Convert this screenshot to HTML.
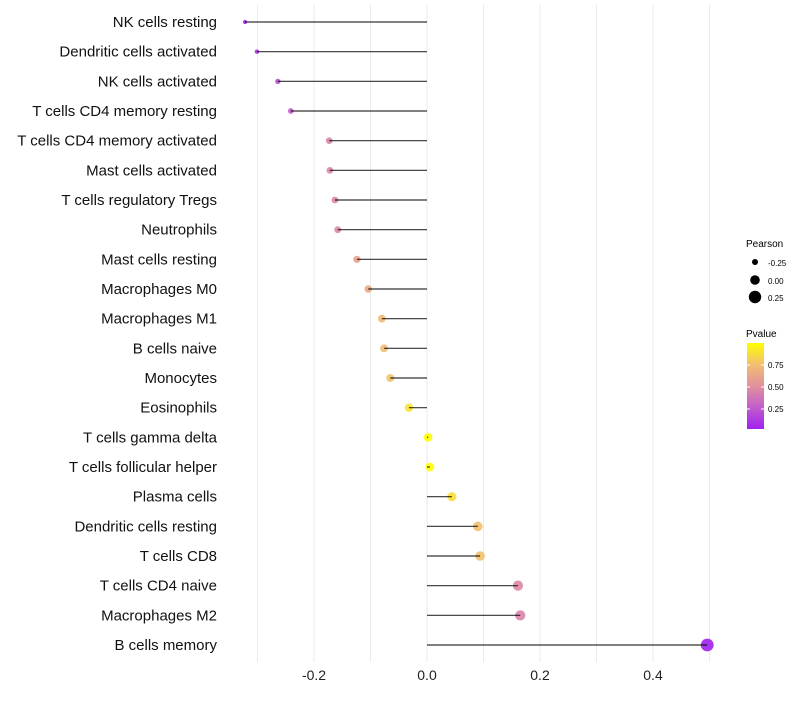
<!DOCTYPE html>
<html><head><meta charset="utf-8"><style>
body{margin:0;background:#fff;font-family:"Liberation Sans",sans-serif}
</style></head><body>
<svg id="chart" width="800" height="700" xmlns="http://www.w3.org/2000/svg">
<defs><linearGradient id="pg" x1="0" y1="1" x2="0" y2="0">
<stop offset="0" stop-color="#A020F0"/><stop offset="0.3" stop-color="#C968C4"/><stop offset="0.5" stop-color="#E0909C"/><stop offset="0.75" stop-color="#F2BE72"/><stop offset="1" stop-color="#FFFF00"/></linearGradient></defs>
<g id="grid"></g>
<g id="points"></g>
<g id="marks"></g>
<g id="ylabels" style="white-space:pre"></g>
<g id="xlabels"></g>
<g font-size="10">
<text x="746" y="247">Pearson</text>
<circle cx="755" cy="262" r="3"/><text x="768" y="266" font-size="8">-0.25</text>
<circle cx="755" cy="280" r="4.8"/><text x="768" y="284" font-size="8">0.00</text>
<circle cx="755" cy="297" r="6.2"/><text x="768" y="301" font-size="8">0.25</text>
<text x="746" y="337">Pvalue</text>
<rect x="747" y="343" width="17" height="86" fill="url(#pg)"/>
<line x1="747" y1="365" x2="750" y2="365" stroke="#fff"/><line x1="761" y1="365" x2="764" y2="365" stroke="#fff"/>
<line x1="747" y1="387" x2="750" y2="387" stroke="#fff"/><line x1="761" y1="387" x2="764" y2="387" stroke="#fff"/>
<line x1="747" y1="409" x2="750" y2="409" stroke="#fff"/><line x1="761" y1="409" x2="764" y2="409" stroke="#fff"/>
<text x="768" y="368" font-size="8">0.75</text>
<text x="768" y="390" font-size="8">0.50</text>
<text x="768" y="412" font-size="8">0.25</text>
</g>
</svg>
<script>
const categories=["NK cells resting","Dendritic cells activated","NK cells activated","T cells CD4 memory resting","T cells CD4 memory activated","Mast cells activated","T cells regulatory  Tregs","Neutrophils","Mast cells resting","Macrophages M0","Macrophages M1","B cells naive","Monocytes","Eosinophils","T cells gamma delta","T cells follicular helper","Plasma cells","Dendritic cells resting","T cells CD8","T cells CD4 naive","Macrophages M2","B cells memory"];
const pearson=[-0.322,-0.301,-0.264,-0.241,-0.173,-0.172,-0.163,-0.158,-0.124,-0.104,-0.080,-0.076,-0.065,-0.032,0.002,0.005,0.044,0.090,0.094,0.161,0.165,0.496];
const pvalue=[0.05,0.12,0.2,0.26,0.45,0.45,0.46,0.47,0.6,0.63,0.72,0.73,0.76,0.88,0.99,0.98,0.86,0.75,0.75,0.46,0.45,0.03];
const xTicks=[-0.2,0,0.2,0.4];
const xTickLabels=["-0.2","0.0","0.2","0.4"];
const minorTicks=[-0.3,-0.1,0.1,0.3,0.5];
const NS="http://www.w3.org/2000/svg";
const x=v=>427+v*565;
const y=i=>22+i*(623/21);
const rad=v=>Math.sqrt(4+ (v+0.33)*45);
const stops=[[0,[160,32,240]],[0.3,[201,104,196]],[0.5,[224,144,156]],[0.75,[242,190,114]],[1,[255,255,0]]];
function col(p){p=(p-0.03)/(0.98-0.03);p=Math.max(0,Math.min(1,p));for(let k=1;k<stops.length;k++){if(p<=stops[k][0]){const a=stops[k-1],b=stops[k],t=(p-a[0])/(b[0]-a[0]);return "rgb("+a[1].map((c,j)=>Math.round(c+(b[1][j]-c)*t)).join(",")+")";}}return "#ff0";}
function mk(t,a,p){const e=document.createElementNS(NS,t);for(const k in a)e.setAttribute(k,a[k]);p.appendChild(e);return e;}
const g=document.getElementById('grid'),m=document.getElementById('marks'),pt=document.getElementById('points'),yl=document.getElementById('ylabels'),xl=document.getElementById('xlabels');
minorTicks.concat(xTicks).forEach(v=>{const l=mk('line',{x1:x(v),x2:x(v),y1:5,y2:662,stroke:'#ebebeb','stroke-width':1},g);

});
xTicks.forEach((v,i)=>{const t=mk('text',{x:x(v),y:680,'text-anchor':'middle','font-size':14,fill:'#222'},xl);t.textContent=xTickLabels[i];

});
categories.forEach((c,i)=>{
const d=mk('circle',{cx:x(pearson[i]),cy:y(i),r:rad(pearson[i]),fill:col(pvalue[i]),'fill-opacity':0.9},pt);


const s=mk('line',{x1:x(0),x2:x(pearson[i]),y1:y(i),y2:y(i),stroke:'#000','stroke-width':1.2,'stroke-opacity':0.8},m);


const t=mk('text',{x:217,y:y(i)+5,'text-anchor':'end','font-size':15,fill:'#111'},yl);t.textContent=c;


});
</script>
</body></html>
